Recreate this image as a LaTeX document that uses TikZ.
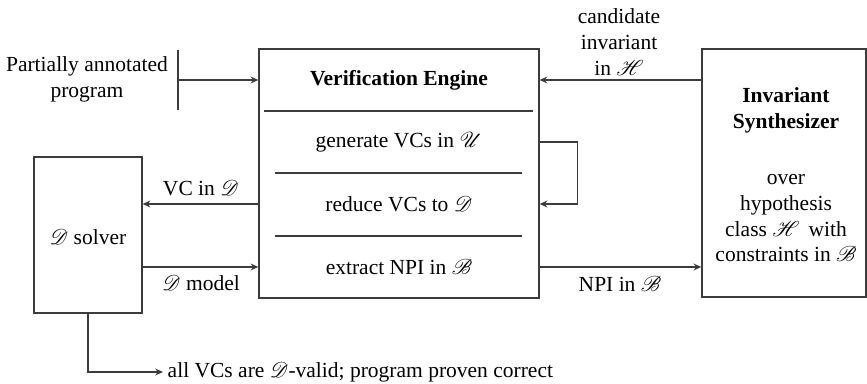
\documentclass[tikz,border=0pt]{standalone}
\usepackage{fontspec}
\setmainfont{Liberation Serif}
\usepackage{mathrsfs}
\usetikzlibrary{arrows.meta,positioning,calc}
\definecolor{linegray}{RGB}{60,60,60}

\begin{document}
\begin{tikzpicture}[
    x=0.465pt, y=-0.465pt,
    >={Stealth[length=3.6pt,width=3.2pt]},
    box/.style={rectangle, draw=linegray, line width=0.6pt, inner sep=0pt},
    txt/.style={align=center, inner sep=2pt},
    flow/.style={->, draw=linegray, line width=0.6pt}
]
    \useasboundingbox (0,0) rectangle (867,384);

    % Verification Engine
    \node[box, minimum width=130.2pt, minimum height=115.8pt] (engine) at (399,173.5) {};
    \node[txt] (title) at (399,80) {\textbf{Verification Engine}};
    \node[txt] (gen) at (399,142) {generate VCs in $\mathscr{U}$};
    \node[txt] (red) at (399,204) {reduce VCs to $\mathscr{D}$};
    \node[txt] (npi) at (399,267) {extract NPI in $\mathscr{B}$};
    \draw[linegray, line width=0.6pt] (264,111) -- (533,111);
    \draw[linegray, line width=0.6pt] (275,173) -- (522,173);
    \draw[linegray, line width=0.6pt] (275,236) -- (522,236);

    % Invariant Synthesizer
    \node[box, minimum width=76.3pt, minimum height=115.3pt] (synth) at (784,173) {};
    \node[txt] (synthtext) at (786,175) {\textbf{Invariant}\\\textbf{Synthesizer}\\[14pt]over\\hypothesis\\class $\mathscr{H}$\, with\\constraints in $\mathscr{B}$};

    % D solver
    \node[box, minimum width=50.2pt, minimum height=72.5pt] (solver) at (88,235) {};
    \node[txt] (solvertext) at (88,237) {$\mathscr{D}$ solver};

    % Input program
    \node[txt] (input) at (87,79) {Partially annotated\\program};
    \coordinate (bar) at (178,80);
    \draw[linegray, line width=0.6pt] (178,50) -- (178,110);

    % Arrows
    \draw[flow] (bar) -- (engine.west |- bar);
    \draw[flow] (synth.west |- title) -- (engine.east |- title);
    \draw[flow] (engine.east |- gen) -- ++(38,0) |- (engine.east |- red);
    \draw[flow] (engine.west |- red) -- (solver.east |- red);
    \draw[flow] (solver.east |- npi) -- (engine.west |- npi);
    \draw[flow] (engine.east |- npi) -- (synth.west |- npi);
    \node[txt, anchor=west] (done) at (163,372) {all VCs are $\mathscr{D}$-valid; program proven correct};
    \draw[flow] (solver.south) |- (done.west);

    % Labels
    \node[txt] (cand) at (619,42) {candidate\\invariant\\in $\mathscr{H}$};
    \node[txt] (vclabel) at (201,188) {VC in $\mathscr{D}$};
    \node[txt] (modellabel) at (201,283) {$\mathscr{D}$ model};
    \node[txt] (npilabel) at (620,284) {NPI in $\mathscr{B}$};
\end{tikzpicture}
\end{document}
